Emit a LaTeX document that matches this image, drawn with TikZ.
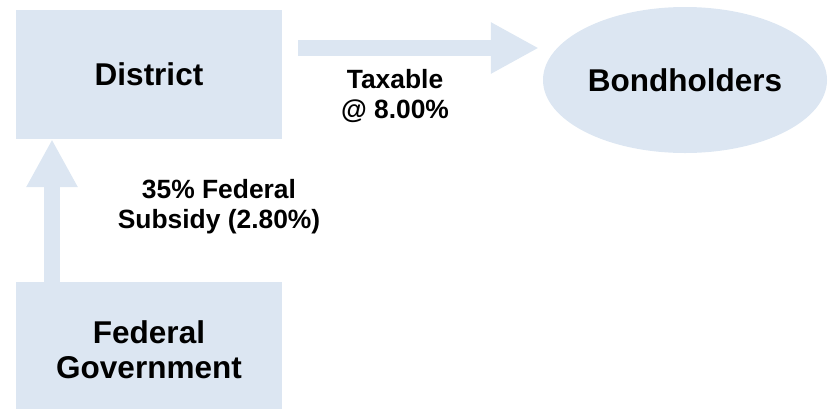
\documentclass[tikz,border=0pt]{standalone}
\usepackage{fontspec}
\setmainfont{Liberation Sans}
\usetikzlibrary{arrows.meta,shapes.geometric}
\definecolor{paleblue}{HTML}{DCE6F2}
\tikzset{
    party/.style={fill=paleblue, font=\bfseries\fontsize{31.5}{35}\selectfont, align=center, inner sep=0pt},
    flowlabel/.style={font=\bfseries\fontsize{26.4}{30}\selectfont, align=center},
    bigarrow/.style={paleblue, line width=16.5pt, -{Triangle[width=48pt,length=48pt]}}
}
\begin{document}
\begin{tikzpicture}[x=1pt,y=-1pt]
            \def\lift{26.5pt}
            \def\offset{97pt}
            \useasboundingbox (0,0) rectangle (829,408);
            \node[party, minimum width=266pt, minimum height=129pt] (District) at (149,74.5) {District};
            \node[party, ellipse, minimum width=284pt, minimum height=146pt] (Bondholders) at (685,80) {Bondholders};
            \node[party, minimum width=266pt, minimum height=136pt] (FedGov) at (149,350) {Federal\\Government};
            \draw[bigarrow, shorten <=16pt, shorten >=4pt] ([yshift=\lift]District.east) -- ([yshift=\lift]District.east -| Bondholders.west);
            \draw[bigarrow] ([xshift=-\offset]FedGov.north) -- ([xshift=-\offset]District.south);
            \node[flowlabel] (Taxable) at (395,96) {Taxable\\@ 8.00\%};
            \node[flowlabel] (Subsidy) at (219,207) {35\% Federal\\Subsidy (2.80\%)};
        \end{tikzpicture}
\end{document}
